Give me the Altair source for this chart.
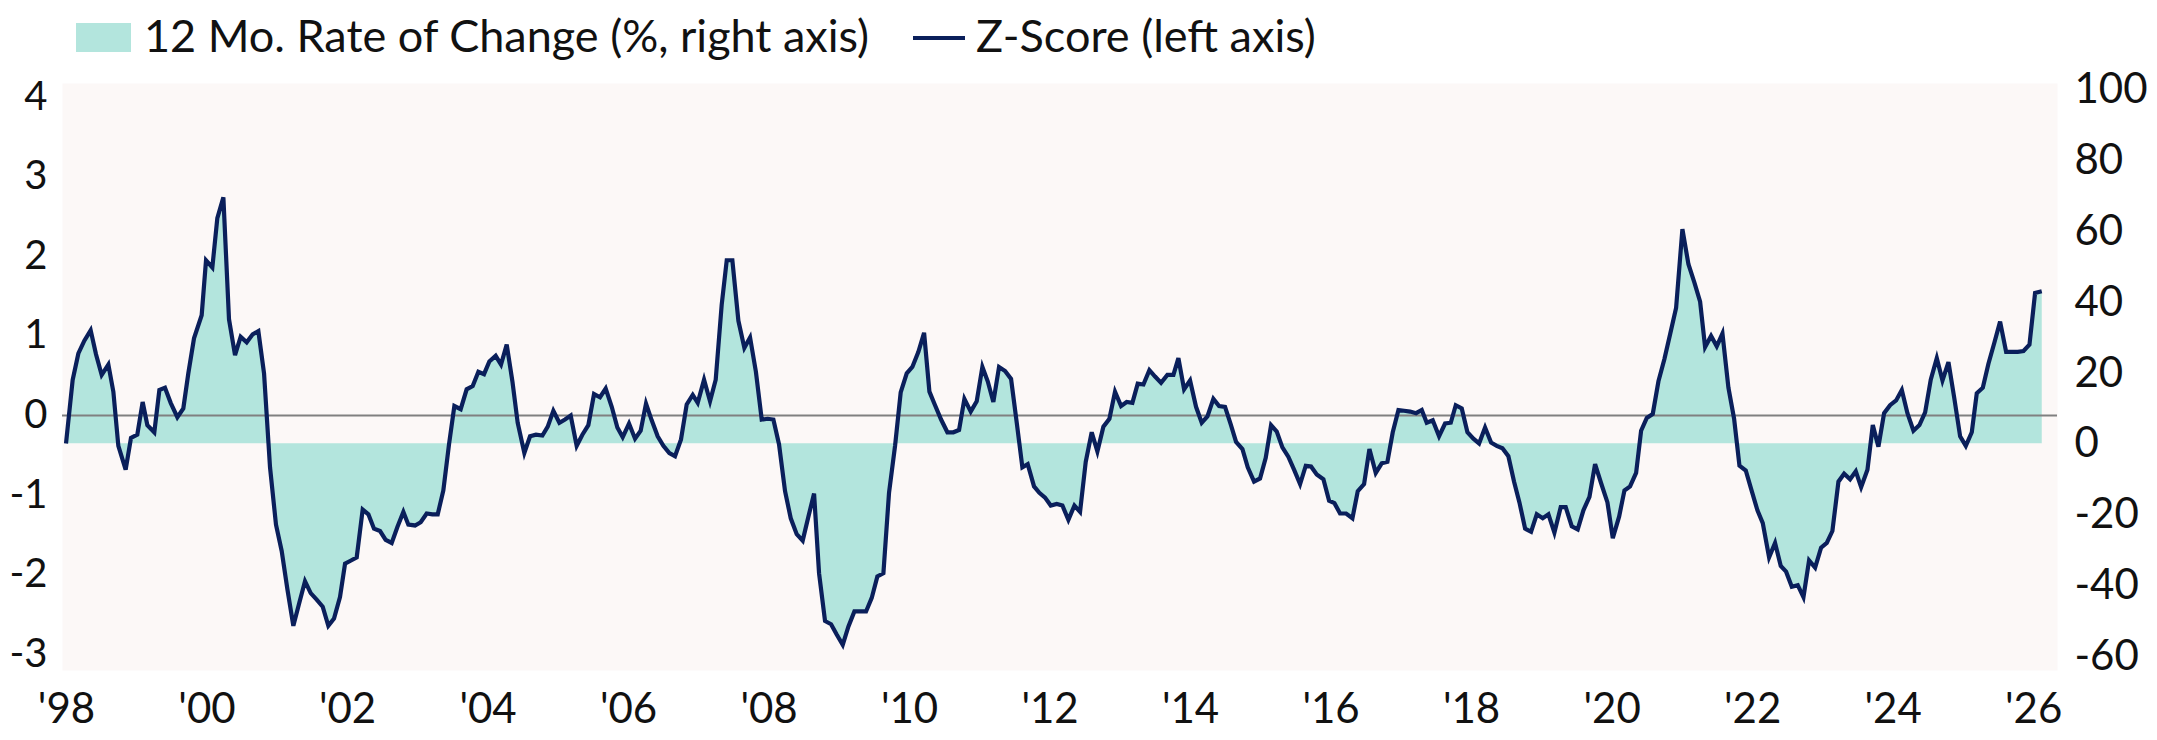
import altair as alt
import pandas as pd

# ---- data (decimal year, z-score) ----
years = [
    1998.000, 1998.095, 1998.176, 1998.261, 1998.351, 1998.427, 1998.508, 1998.603, 1998.674, 1998.745,
    1998.849, 1998.925, 1999.015, 1999.091, 1999.158, 1999.257, 1999.329, 1999.409, 1999.490, 1999.585,
    1999.670, 1999.741, 1999.822, 1999.931, 1999.993, 2000.083, 2000.154, 2000.240, 2000.320, 2000.406,
    2000.486, 2000.572, 2000.657, 2000.738, 2000.819, 2000.904, 2000.989, 2001.070, 2001.151, 2001.236,
    2001.321, 2001.402, 2001.483, 2001.568, 2001.654, 2001.734, 2001.815, 2001.900, 2001.972, 2002.057,
    2002.138, 2002.223, 2002.304, 2002.384, 2002.470, 2002.550, 2002.636, 2002.717, 2002.802, 2002.873,
    2002.968, 2003.049, 2003.134, 2003.215, 2003.291, 2003.371, 2003.452, 2003.528, 2003.618, 2003.703,
    2003.789, 2003.870, 2003.950, 2004.026, 2004.116, 2004.192, 2004.273, 2004.354, 2004.429, 2004.524,
    2004.605, 2004.690, 2004.781, 2004.857, 2004.937, 2005.023, 2005.103, 2005.184, 2005.269, 2005.350,
    2005.435, 2005.516, 2005.601, 2005.682, 2005.768, 2005.848, 2005.924, 2006.014, 2006.100, 2006.180,
    2006.256, 2006.337, 2006.422, 2006.503, 2006.588, 2006.669, 2006.754, 2006.835, 2006.921, 2006.992,
    2007.082, 2007.167, 2007.248, 2007.333, 2007.405, 2007.485, 2007.571, 2007.656, 2007.737, 2007.820,
    2007.903, 2007.988, 2008.069, 2008.149, 2008.235, 2008.316, 2008.401, 2008.486, 2008.567, 2008.648,
    2008.719, 2008.804, 2008.890, 2008.970, 2009.056, 2009.136, 2009.222, 2009.302, 2009.388, 2009.469,
    2009.549, 2009.635, 2009.715, 2009.801, 2009.881, 2009.967, 2010.047, 2010.133, 2010.214, 2010.290,
    2010.370, 2010.456, 2010.546, 2010.631, 2010.712, 2010.788, 2010.878, 2010.963, 2011.044, 2011.120,
    2011.200, 2011.281, 2011.367, 2011.452, 2011.533, 2011.613, 2011.689, 2011.779, 2011.855, 2011.936,
    2012.017, 2012.102, 2012.183, 2012.268, 2012.354, 2012.434, 2012.515, 2012.600, 2012.681, 2012.766,
    2012.852, 2012.932, 2013.018, 2013.098, 2013.179, 2013.255, 2013.336, 2013.421, 2013.502, 2013.587,
    2013.677, 2013.763, 2013.834, 2013.915, 2014.000, 2014.085, 2014.166, 2014.247, 2014.332, 2014.413,
    2014.498, 2014.579, 2014.655, 2014.745, 2014.821, 2014.911, 2014.996, 2015.077, 2015.153, 2015.234,
    2015.314, 2015.400, 2015.480, 2015.566, 2015.647, 2015.722, 2015.803, 2015.898, 2015.979, 2016.055,
    2016.135, 2016.221, 2016.311, 2016.387, 2016.477, 2016.553, 2016.643, 2016.728, 2016.809, 2016.885,
    2016.966, 2017.046, 2017.132, 2017.217, 2017.298, 2017.369, 2017.454, 2017.544, 2017.630, 2017.711,
    2017.782, 2017.867, 2017.948, 2018.033, 2018.114, 2018.199, 2018.285, 2018.365, 2018.446, 2018.531,
    2018.612, 2018.688, 2018.769, 2018.854, 2018.935, 2019.020, 2019.101, 2019.186, 2019.276, 2019.347,
    2019.433, 2019.518, 2019.599, 2019.685, 2019.765, 2019.851, 2019.941, 2020.017, 2020.107, 2020.183,
    2020.263, 2020.349, 2020.420, 2020.501, 2020.586, 2020.667, 2020.752, 2020.833, 2020.918, 2021.008,
    2021.094, 2021.179, 2021.260, 2021.331, 2021.416, 2021.497, 2021.578, 2021.663, 2021.744, 2021.820,
    2021.910, 2021.986, 2022.076, 2022.152, 2022.242, 2022.327, 2022.408, 2022.484, 2022.565, 2022.650,
    2022.731, 2022.811, 2022.897, 2022.982, 2023.063, 2023.143, 2023.229, 2023.310, 2023.395, 2023.476,
    2023.552, 2023.642, 2023.718, 2023.798, 2023.879, 2023.964, 2024.050, 2024.131, 2024.211, 2024.297,
    2024.382, 2024.463, 2024.543, 2024.629, 2024.710, 2024.795, 2024.876, 2024.961, 2025.042, 2025.127,
    2025.198, 2025.284, 2025.364, 2025.450, 2025.530, 2025.616, 2025.697, 2025.782, 2025.863, 2025.948,
    2026.028, 2026.123,
]

zscore = [
    -0.35, 0.45, 0.78, 0.94, 1.07, 0.77, 0.51, 0.64, 0.30, -0.38,
    -0.68, -0.28, -0.24, 0.17, -0.12, -0.21, 0.32, 0.35, 0.16, -0.02,
    0.09, 0.53, 0.97, 1.26, 1.95, 1.86, 2.48, 2.74, 1.21, 0.76,
    0.99, 0.92, 1.02, 1.06, 0.53, -0.65, -1.37, -1.70, -2.18, -2.64,
    -2.35, -2.08, -2.23, -2.31, -2.40, -2.64, -2.55, -2.28, -1.86, -1.82,
    -1.78, -1.18, -1.24, -1.42, -1.45, -1.56, -1.60, -1.40, -1.21, -1.37,
    -1.38, -1.34, -1.23, -1.24, -1.24, -0.94, -0.36, 0.12, 0.08, 0.33,
    0.37, 0.55, 0.52, 0.68, 0.75, 0.64, 0.89, 0.43, -0.09, -0.47,
    -0.26, -0.24, -0.25, -0.14, 0.06, -0.09, -0.05, 0.00, -0.38, -0.24,
    -0.12, 0.27, 0.23, 0.34, 0.11, -0.15, -0.27, -0.10, -0.29, -0.19,
    0.15, -0.06, -0.26, -0.38, -0.47, -0.51, -0.30, 0.14, 0.26, 0.16,
    0.45, 0.18, 0.45, 1.39, 1.95, 1.95, 1.19, 0.85, 0.98, 0.55,
    -0.05, -0.04, -0.05, -0.36, -0.95, -1.29, -1.49, -1.57, -1.27, -0.98,
    -1.98, -2.58, -2.62, -2.75, -2.88, -2.65, -2.46, -2.46, -2.46, -2.29,
    -2.02, -1.98, -0.97, -0.38, 0.29, 0.53, 0.61, 0.80, 1.04, 0.30,
    0.13, -0.05, -0.21, -0.21, -0.18, 0.21, 0.05, 0.18, 0.61, 0.43,
    0.17, 0.61, 0.56, 0.46, -0.09, -0.65, -0.61, -0.89, -0.97, -1.03,
    -1.13, -1.11, -1.13, -1.31, -1.13, -1.21, -0.58, -0.21, -0.45, -0.14,
    -0.04, 0.30, 0.12, 0.17, 0.16, 0.40, 0.39, 0.57, 0.49, 0.41,
    0.51, 0.51, 0.72, 0.33, 0.44, 0.11, -0.09, -0.01, 0.21, 0.12,
    0.11, -0.11, -0.33, -0.42, -0.65, -0.83, -0.79, -0.53, -0.12, -0.20,
    -0.40, -0.52, -0.68, -0.86, -0.63, -0.64, -0.74, -0.80, -1.07, -1.10,
    -1.23, -1.23, -1.29, -0.95, -0.86, -0.42, -0.72, -0.60, -0.58, -0.21,
    0.07, 0.06, 0.05, 0.03, 0.07, -0.09, -0.06, -0.26, -0.10, -0.09,
    0.13, 0.09, -0.21, -0.29, -0.35, -0.15, -0.34, -0.38, -0.41, -0.51,
    -0.83, -1.09, -1.42, -1.46, -1.24, -1.29, -1.24, -1.47, -1.15, -1.15,
    -1.39, -1.43, -1.19, -1.02, -0.61, -0.85, -1.09, -1.54, -1.27, -0.94,
    -0.89, -0.72, -0.19, -0.03, 0.02, 0.43, 0.71, 1.02, 1.35, 2.34,
    1.90, 1.67, 1.43, 0.86, 1.00, 0.87, 1.03, 0.35, -0.04, -0.63,
    -0.69, -0.92, -1.19, -1.35, -1.78, -1.60, -1.89, -1.96, -2.15, -2.13,
    -2.28, -1.82, -1.91, -1.66, -1.60, -1.45, -0.83, -0.73, -0.80, -0.70,
    -0.90, -0.68, -0.12, -0.39, 0.03, 0.13, 0.19, 0.32, 0.03, -0.19,
    -0.12, 0.04, 0.45, 0.72, 0.44, 0.67, 0.23, -0.26, -0.38, -0.21,
    0.28, 0.35, 0.65, 0.92, 1.18, 0.80, 0.80, 0.80, 0.81, 0.89,
    1.54, 1.56,
]

x_ticks = [1998, 2000, 2002, 2004, 2006, 2008, 2010, 2012, 2014, 2016, 2018, 2020, 2022, 2024, 2026]
left_ticks = [-3, -2, -1, 0, 1, 2, 3, 4]
right_ticks = [-60, -40, -20, 0, 20, 40, 60, 80, 100]
zero_level = [0]
area_name = "12 Mo. Rate of Change (%, right axis)"
line_name = "Z-Score (left axis)"

# level of the left (z) axis at which the right axis reads 0
AREA_BASE_Z = -0.347

# ---- styling ----
FONT = "Lato"
FS = 42
LEFT_FS = 40
LEG_FS = 45
TXT = "#111111"
TEAL = "#B3E5DD"
NAVY = "#0A1F5B"
GREY = "#808080"
BG = "#FCF8F7"

df = pd.DataFrame({"year": years, "z": zscore})
df["area_series"] = area_name
df["line_series"] = line_name

x_enc = alt.X(
    "year:Q",
    scale=alt.Scale(domain=[1997.943, 2026.34], nice=False, zero=False),
    axis=alt.Axis(
        values=x_ticks,
        labelExpr="\"'\" + substring(toString(datum.value), 2, 4)",
        title=None, grid=False, domain=False, ticks=False, tickSize=0,
        labelPadding=19, labelFont=FONT, labelFontSize=FS, labelColor=TXT,
        labelFlush=False, labelOverlap=False,
    ),
)

left_scale = alt.Scale(domain=[-3.195, 4.176], nice=False, zero=False)
left_axis = alt.Axis(
    values=left_ticks, title=None, grid=False, domain=False, ticks=False, tickSize=0,
    labelPadding=15, labelFont=FONT, labelFontSize=LEFT_FS, labelColor=TXT,
    labelFlush=False, labelOverlap=False, labelExpr="toString(datum.value)",
)

area = alt.Chart(df).mark_area(opacity=1, interpolate="linear").encode(
    x=x_enc,
    y=alt.Y("z:Q", scale=left_scale, axis=left_axis),
    y2=alt.datum(AREA_BASE_Z),
    fill=alt.Fill(
        "area_series:N",
        scale=alt.Scale(domain=[area_name], range=[TEAL]),
        legend=alt.Legend(
            title=None, orient="none", legendX=14, legendY=-73, padding=0,
            symbolType="M-1,-0.527H1V0.527H-1Z", symbolSize=3025, symbolStrokeWidth=0,
            symbolOpacity=1, labelFont=FONT, labelFontSize=LEG_FS, labelColor=TXT,
            labelOffset=13, labelLimit=2000,
        ),
    ),
)

zero_rule = alt.Chart(pd.DataFrame({"level": zero_level})).mark_rule(
    color=GREY, strokeWidth=2
).encode(y=alt.Y("level:Q", scale=left_scale, axis=left_axis))

line = alt.Chart(df).mark_line(strokeWidth=4.2, interpolate="linear").encode(
    x=x_enc,
    y=alt.Y("z:Q", scale=left_scale, axis=left_axis),
    stroke=alt.Stroke(
        "line_series:N",
        scale=alt.Scale(domain=[line_name], range=[NAVY]),
        legend=alt.Legend(
            title=None, orient="none", legendX=849, legendY=-73, padding=0,
            symbolType="stroke", symbolSize=2704, symbolStrokeWidth=4,
            labelFont=FONT, labelFontSize=LEG_FS, labelColor=TXT,
            labelOffset=9, labelLimit=2000,
        ),
    ),
)

right_axis_layer = alt.Chart(pd.DataFrame({"roc": right_ticks})).mark_rule(
    strokeOpacity=0
).encode(
    y=alt.Y(
        "roc:Q",
        scale=alt.Scale(domain=[-63.8, 101.9], nice=False, zero=False),
        axis=alt.Axis(
            orient="right", values=right_ticks, title=None, grid=False, domain=False,
            ticks=False, tickSize=0, labelPadding=17, labelFont=FONT, labelFontSize=FS,
            labelColor=TXT, labelFlush=False, labelOverlap=False,
            labelExpr="toString(datum.value)",
        ),
    )
)

left_layers = alt.layer(area, zero_rule, line)

chart = (
    alt.layer(left_layers, right_axis_layer)
    .resolve_scale(y="independent")
    .properties(
        width=1995,
        height=587,
        padding={"left": 54, "top": 75, "right": 92, "bottom": 62},
        autosize=alt.AutoSizeParams(type="none"),
        background="white",
    )
    .configure_view(fill=BG, strokeOpacity=0)
)

chart.save("out.html", embed_options={"renderer": "svg", "actions": False})
